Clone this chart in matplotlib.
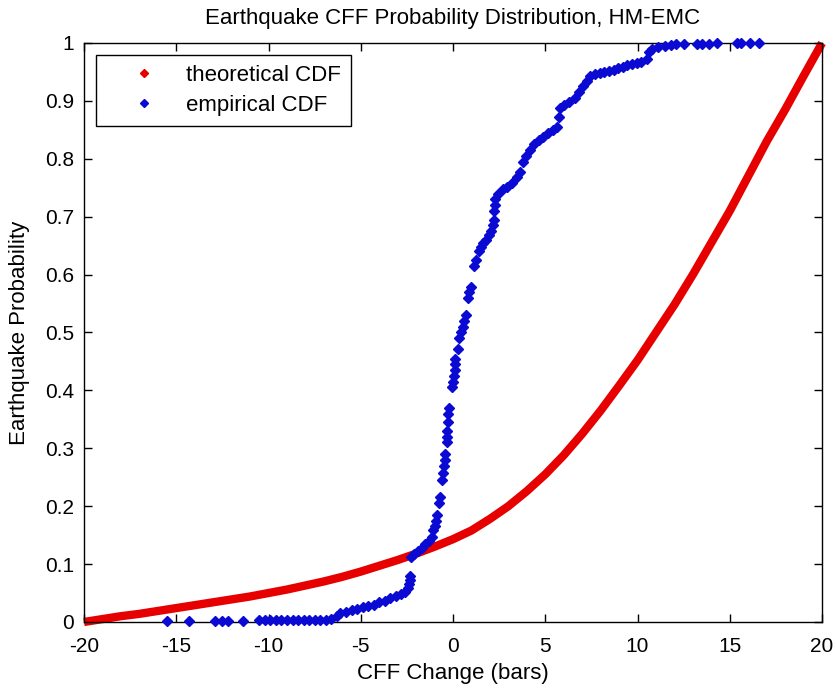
import matplotlib.pyplot as plt
from matplotlib.lines import Line2D

# theoretical CDF
theo_x = [-20, -19, -18, -17, -16, -15, -14, -13, -12, -11, -10, -9, -8, -7, -6, -5, -4, -3,
          -2, -1, 0, 1, 2, 3, 4, 5, 6, 7, 8, 9, 10, 11, 12, 13, 14, 15, 16, 17, 18, 19, 20]
theo_y = [0.0, 0.005, 0.010, 0.014, 0.019, 0.024, 0.029, 0.034, 0.039, 0.044, 0.050, 0.056,
          0.063, 0.070, 0.078, 0.087, 0.097, 0.107, 0.118, 0.130, 0.143, 0.158, 0.178, 0.200,
          0.226, 0.255, 0.288, 0.325, 0.365, 0.408, 0.452, 0.500, 0.548, 0.600, 0.655, 0.710,
          0.770, 0.830, 0.885, 0.943, 1.0]

# empirical CDF
emp_x = [-15.5, -14.3, -12.9, -12.5, -12.2, -11.4, -10.5, -10.2, -9.9, -9.6, -9.3, -9.0,
         -8.7, -8.4, -8.1, -7.8, -7.5, -7.2, -6.9, -6.6,
         -6.3, -6.1, -5.8, -5.5, -5.2, -4.9, -4.6, -4.3, -4.0, -3.7, -3.4, -3.1, -2.8, -2.6,
         -2.45, -2.4, -2.35, -2.35,
         -2.3, -2.1, -1.9, -1.7, -1.5, -1.3, -1.15,
         -1.1, -1.0, -0.9, -0.85, -0.75, -0.7, -0.6, -0.55, -0.5, -0.45, -0.42, -0.35, -0.32,
         -0.3, -0.28, -0.25, -0.22,
         -0.05, 0.0, 0.05, 0.08, 0.1, 0.12, 0.25, 0.35, 0.45, 0.55, 0.62, 0.7, 0.8, 0.88, 0.95,
         1.15, 1.25, 1.4, 1.5, 1.65, 1.8, 1.95, 2.05, 2.15, 2.2,
         2.2, 2.25, 2.3, 2.45, 2.7, 2.95, 3.2, 3.45, 3.65, 3.8, 3.95, 4.15, 4.4, 4.65, 4.9,
         5.15, 5.4, 5.65,
         5.75, 5.8, 6.0, 6.3, 6.6, 6.85, 7.05, 7.25, 7.45, 7.7, 7.95, 8.2, 8.45, 8.7, 8.95,
         9.2, 9.45, 9.7, 9.95, 10.2, 10.5,
         10.6, 10.8, 11.1, 11.5, 11.8, 12.1, 12.5, 13.2, 13.5, 13.9, 14.3, 15.4, 15.6, 16.1, 16.6]
emp_y = [0.001, 0.001, 0.002, 0.002, 0.002, 0.002, 0.003, 0.003, 0.003, 0.003, 0.003, 0.003,
         0.003, 0.003, 0.003, 0.004, 0.004, 0.004, 0.004, 0.005,
         0.010, 0.015, 0.018, 0.020, 0.022, 0.025, 0.027, 0.030, 0.034, 0.037, 0.041, 0.045,
         0.048, 0.052, 0.058, 0.065, 0.072, 0.079,
         0.112, 0.117, 0.122, 0.128, 0.134, 0.140, 0.147,
         0.158, 0.166, 0.175, 0.185, 0.205, 0.215, 0.245, 0.258, 0.27, 0.28, 0.29, 0.31, 0.32,
         0.33, 0.345, 0.36, 0.37,
         0.405, 0.415, 0.425, 0.435, 0.445, 0.455, 0.472, 0.49, 0.50, 0.51, 0.52, 0.53, 0.56,
         0.57, 0.578,
         0.615, 0.625, 0.64, 0.648, 0.655, 0.66, 0.668, 0.675, 0.685, 0.695,
         0.71, 0.72, 0.73, 0.74, 0.748, 0.752, 0.758, 0.768, 0.778, 0.795, 0.805, 0.815, 0.825,
         0.832, 0.838, 0.845, 0.85, 0.855,
         0.872, 0.887, 0.893, 0.898, 0.905, 0.915, 0.925, 0.935, 0.943, 0.946, 0.948, 0.95,
         0.952, 0.954, 0.956, 0.959, 0.962, 0.964, 0.966, 0.968, 0.972,
         0.985, 0.99, 0.993, 0.995, 0.997, 0.998, 0.998, 0.999, 0.999, 0.999, 1.0, 1.0, 1.0,
         1.0, 1.0]

x_ticks = [-20, -15, -10, -5, 0, 5, 10, 15, 20]
y_ticks = [0, 0.1, 0.2, 0.3, 0.4, 0.5, 0.6, 0.7, 0.8, 0.9, 1]
y_tick_labels = ['0', '0.1', '0.2', '0.3', '0.4', '0.5', '0.6', '0.7', '0.8', '0.9', '1']

red = '#e60000'
blue = '#0a0ad2'

plt.rcParams['font.family'] = ['Liberation Sans', 'DejaVu Sans']
plt.rcParams['axes.unicode_minus'] = False

fig = plt.figure(figsize=(8.36, 6.9), dpi=100, facecolor='white')
ax = fig.add_axes([0.1005, 0.0986, 0.8828, 0.8391])

ax.plot(theo_x, theo_y, '-', color=red, lw=6, solid_capstyle='butt', clip_on=False, zorder=2)
ax.plot(emp_x, emp_y, 'D', color=blue, ms=5.5, ls='', clip_on=False, zorder=3)

ax.set_xlim(-20, 20)
ax.set_ylim(0, 1)
ax.set_xticks(x_ticks)
ax.set_yticks(y_ticks)
ax.set_yticklabels(y_tick_labels)
ax.tick_params(direction='in', length=6, width=1, top=True, right=True,
               labelsize=15, colors='black')
ax.tick_params(axis='x', pad=11)
ax.tick_params(axis='y', pad=7)
for s in ax.spines.values():
    s.set_linewidth(1.0)

ax.set_title('Earthquake CFF Probability Distribution, HM-EMC', fontsize=16, pad=14)
ax.set_xlabel('CFF Change (bars)', fontsize=16, labelpad=5)
ax.set_ylabel('Earthquake Probability', fontsize=16, labelpad=11)

handles = [Line2D([], [], ls='', marker='D', ms=4, color=red),
           Line2D([], [], ls='', marker='D', ms=4, color=blue)]
leg = ax.legend(handles, ['theoretical CDF', 'empirical CDF'], loc='upper left',
                bbox_to_anchor=(0.016, 0.98), borderaxespad=0, fontsize=16,
                fancybox=False, edgecolor='black', framealpha=1,
                handlelength=3.4, handletextpad=0.2, borderpad=0.45, labelspacing=0.42)
leg.get_frame().set_linewidth(1.0)

fig.savefig('out.png', dpi=100, facecolor='white')
